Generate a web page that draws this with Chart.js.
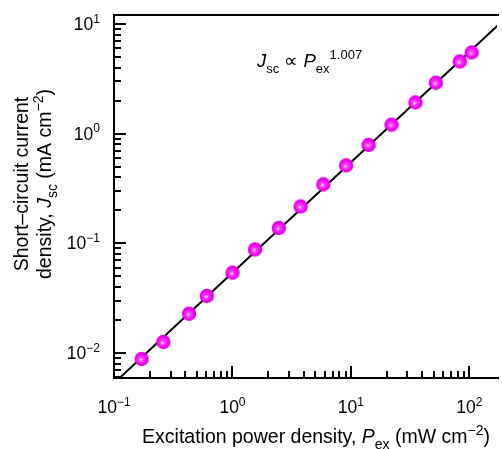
<!DOCTYPE html>
<html>
<head>
<meta charset="utf-8">
<script src="https://cdn.jsdelivr.net/npm/chart.js@4/dist/chart.umd.min.js"></script>
<style>
  html, body { margin: 0; padding: 0; background: #fff; }
</style>
</head>
<body>
<canvas id="chart" width="502" height="449"></canvas>
<script>
// measured points: excitation power (mW cm^-2) vs Jsc (mA cm^-2)
const powerEx = [0.171, 0.261, 0.43, 0.607, 1.0, 1.55, 2.46, 3.76, 5.84, 9.1, 14.1, 22.0, 35.0, 52.1, 83, 104.5];
const jsc = [0.0088, 0.0126, 0.0228, 0.0331, 0.054, 0.088, 0.138, 0.217, 0.345, 0.514, 0.79, 1.21, 1.93, 2.92, 4.56, 5.51];

// power-law fit end points (slope 1.007)
const fitX = [0.1, 200];
const fitY = [0.0053, 11.2];

// axis ranges and tick labels
const xRange = [0.1, 171];
const yRange = [0.00591, 12.1];
const xTickVals = [0.1, 1, 10, 100];
const xTickExp = ["\u22121", "0", "1", "2"];
const yTickVals = [0.01, 0.1, 1, 10];
const yTickExp = ["\u22122", "\u22121", "0", "1"];

const FONT = '"Liberation Sans", Arial, Helvetica, sans-serif';

// magenta ball marker
function makeBall() {
	const c = document.createElement("canvas");
	c.width = 16;
	c.height = 16;
	const g = c.getContext("2d");
	const grad = g.createRadialGradient(7, 9, 0.5, 8, 8, 7.4);
	grad.addColorStop(0, "#ffd8ff");
	grad.addColorStop(0.22, "#ff40ff");
	grad.addColorStop(0.7, "#f400f4");
	grad.addColorStop(1, "#d000d0");
	g.fillStyle = grad;
	g.beginPath();
	g.arc(8, 8, 7.2, 0, Math.PI * 2);
	g.fill();
	return c;
}

// text with sub/superscripts: segs = [[text, kind], ...]
function segFont(kind, size) {
	const s = kind === "sub" || kind === "sup" ? Math.round(size * 0.7) : size;
	const st = kind === "i" ? "italic " : "";
	return st + s + "px " + FONT;
}
function measureRich(ctx, segs, size) {
	let w = 0;
	segs.forEach(([t, k]) => {
		ctx.font = segFont(k, size);
		w += ctx.measureText(t).width;
	});
	return w;
}
function drawRich(ctx, segs, x, y, size, align) {
	const w = measureRich(ctx, segs, size);
	let cx = align === "center" ? x - w / 2 : align === "right" ? x - w : x;
	ctx.textAlign = "left";
	ctx.textBaseline = "alphabetic";
	segs.forEach(([t, k]) => {
		ctx.font = segFont(k, size);
		let dy = 0;
		if (k === "sub") dy = size * 0.3;
		if (k === "sup") dy = -size * 0.42;
		ctx.fillText(t, cx, y + dy);
		cx += ctx.measureText(t).width;
	});
}

function logTicks(min, max) {
	const out = [];
	for (let k = Math.floor(Math.log10(min)); k <= Math.ceil(Math.log10(max)); k++) {
		for (let m = 1; m <= 9; m++) {
			const v = m * Math.pow(10, k);
			if (v >= min * 0.9999 && v <= max) out.push({ v, major: m === 1 });
		}
	}
	return out;
}

// frame, inward ticks, labels and titles
const framePlugin = {
	id: "frame",
	afterDraw(chart) {
		const { ctx, chartArea: a, scales } = chart;
		const x = scales.x, y = scales.y;
		ctx.save();
		ctx.strokeStyle = "#000";
		ctx.fillStyle = "#000";
		ctx.lineWidth = 2;
		ctx.lineJoin = "miter";
		ctx.beginPath();
		ctx.moveTo(a.right + 2, a.top);
		ctx.lineTo(a.left, a.top);
		ctx.lineTo(a.left, a.bottom);
		ctx.lineTo(a.right + 2, a.bottom);
		ctx.stroke();

		ctx.beginPath();
		logTicks(xRange[0], xRange[1]).forEach((t) => {
			const px = Math.round(x.getPixelForValue(t.v));
			if (px <= a.left + 1) return;
			ctx.moveTo(px, a.bottom);
			ctx.lineTo(px, a.bottom - (t.major ? 12 : 7));
		});
		logTicks(yRange[0], yRange[1]).forEach((t) => {
			const py = Math.round(y.getPixelForValue(t.v));
			ctx.moveTo(a.left, py);
			ctx.lineTo(a.left + (t.major ? 12 : 7), py);
		});
		ctx.stroke();

		xTickVals.forEach((v, i) => {
			drawRich(ctx, [["10", "n"], [xTickExp[i], "sup"]], x.getPixelForValue(v), a.bottom + 35, 17.5, "center");
		});
		yTickVals.forEach((v, i) => {
			drawRich(ctx, [["10", "n"], [yTickExp[i], "sup"]], a.left - 14, y.getPixelForValue(v) + 6, 17.5, "right");
		});

		// x title
		drawRich(ctx, [
			["Excitation power density, ", "n"], ["P", "i"], ["ex", "sub"],
			[" (mW cm", "n"], ["\u22122", "sup"], [")", "n"]
		], 316, 443, 19.5, "center");

		// y title
		const cy = 184;
		ctx.save();
		ctx.translate(28, cy);
		ctx.rotate(-Math.PI / 2);
		drawRich(ctx, [["Short\u2013circuit current", "n"]], 0, 0, 19.5, "center");
		ctx.restore();
		ctx.save();
		ctx.translate(51, cy);
		ctx.rotate(-Math.PI / 2);
		drawRich(ctx, [
			["density, ", "n"], ["J", "i"], ["sc", "sub"],
			[" (mA cm", "n"], ["\u22122", "sup"], [")", "n"]
		], 0, 0, 19.5, "center");
		ctx.restore();

		// power-law annotation
		drawRich(ctx, [
			["J", "i"], ["sc", "sub"], [" \u221d ", "n"], ["P", "i"], ["ex", "sub"], ["1.007", "sup"]
		], a.left + 143, a.top + 52, 18.5, "left");
		ctx.restore();
	}
};

const ball = makeBall();

new Chart(document.getElementById("chart"), {
	type: "scatter",
	data: {
		datasets: [
			{
				label: "Jsc",
				data: powerEx.map((p, i) => ({ x: p, y: jsc[i] })),
				pointStyle: ball,
				showLine: false,
				order: 1,
			},
			{
				label: "fit",
				type: "line",
				data: fitX.map((p, i) => ({ x: p, y: fitY[i] })),
				borderColor: "#000",
				borderWidth: 2,
				pointRadius: 0,
				fill: false,
				order: 2,
			},
		],
	},
	options: {
		responsive: false,
		animation: false,
		layout: { padding: { left: 114, top: 15, right: 0, bottom: 71 } },
		plugins: {
			legend: { display: false },
			tooltip: { enabled: false },
		},
		scales: {
			x: { type: "logarithmic", min: xRange[0], max: xRange[1], display: false },
			y: { type: "logarithmic", min: yRange[0], max: yRange[1], display: false },
		},
	},
	plugins: [framePlugin],
});
</script>
</body>
</html>
